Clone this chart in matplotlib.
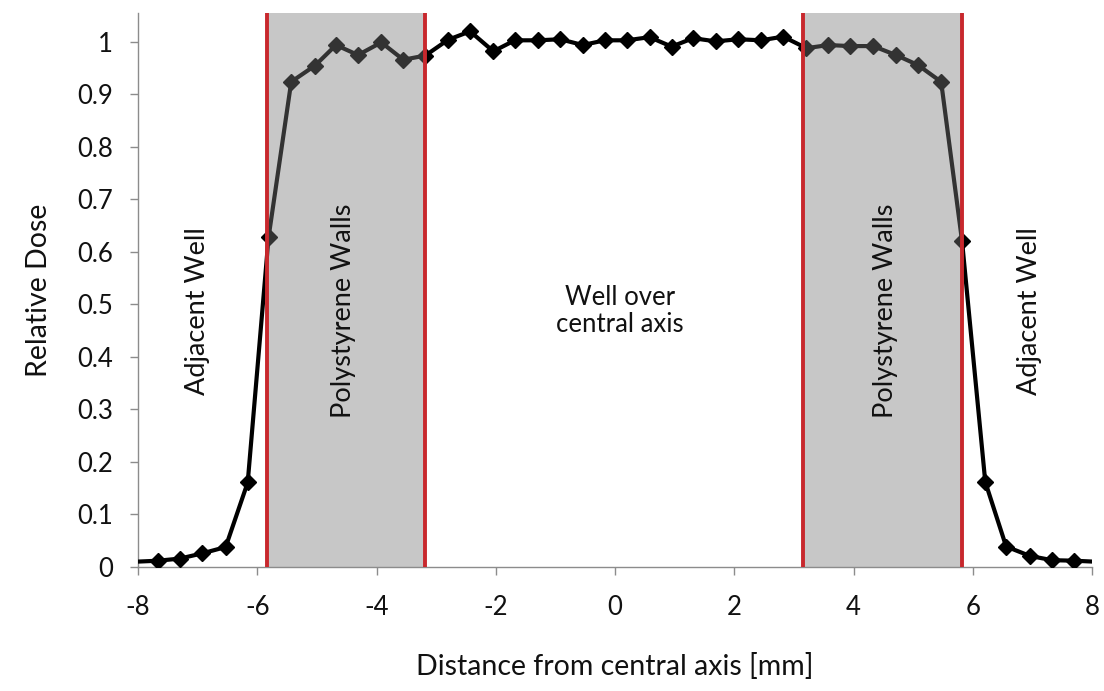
import numpy as np
import matplotlib
matplotlib.use("Agg")
import matplotlib.pyplot as plt

# Data
distance_mm = [-8.06, -7.66, -7.30, -6.92, -6.53, -6.16, -5.81, -5.43, -5.03, -4.68,
               -4.31, -3.92, -3.55, -3.18, -2.80, -2.43, -2.04, -1.68, -1.29, -0.92,
               -0.54, -0.17, 0.20, 0.58, 0.95, 1.31, 1.69, 2.07, 2.45, 2.82,
               3.21, 3.58, 3.94, 4.33, 4.71, 5.08, 5.47, 5.82, 6.21, 6.56,
               6.96, 7.33, 7.70, 8.07]
relative_dose = [0.010, 0.012, 0.016, 0.026, 0.038, 0.161, 0.628, 0.924, 0.955, 0.994,
                 0.975, 0.999, 0.966, 0.974, 1.004, 1.020, 0.982, 1.003, 1.003, 1.005,
                 0.994, 1.003, 1.003, 1.009, 0.991, 1.007, 1.001, 1.005, 1.003, 1.010,
                 0.988, 0.994, 0.992, 0.992, 0.975, 0.956, 0.924, 0.621, 0.162, 0.039,
                 0.021, 0.013, 0.012, 0.010]

wall_regions = [(-5.83, -3.18), (3.16, 5.82)]
region_labels = ["Adjacent Well", "Polystyrene Walls", "Well over\ncentral axis",
                 "Polystyrene Walls", "Adjacent Well"]
region_label_x = [-7.01, -4.55, 0.08, 4.53, 6.96]
region_label_rot = [90, 90, 0, 90, 90]

x_ticks = [-8, -6, -4, -2, 0, 2, 4, 6, 8]
y_ticks = [0, 0.1, 0.2, 0.3, 0.4, 0.5, 0.6, 0.7, 0.8, 0.9, 1.0]
y_tick_labels = ["0", "0.1", "0.2", "0.3", "0.4", "0.5", "0.6", "0.7", "0.8", "0.9", "1"]

plt.rcParams['font.family'] = ['Lato', 'DejaVu Sans']

fig = plt.figure(figsize=(11.04, 6.91), dpi=100)
ax = fig.add_axes([138/1104, (691-567)/691, (1092-138)/1104, (567-13)/691])

xs = np.array(distance_mm)
ys = np.array(relative_dose)
ax.plot(xs, ys, color='black', lw=3.0, zorder=3, solid_joinstyle='round')
inside = (xs >= -8) & (xs <= 8)
ax.plot(xs[inside], ys[inside], linestyle='none', marker='D', markersize=8.3,
        color='black', zorder=4)

# semi-transparent grey overlay for walls
for (a, b) in wall_regions:
    ax.axvspan(a, b, color=(123/255, 123/255, 123/255), alpha=0.42, lw=0, zorder=5)
    for xv in (a, b):
        ax.axvline(xv, color='#C8282D', lw=2.8, zorder=6)

for lx, txt, rot in zip(region_label_x, region_labels, region_label_rot):
    fs = 19.5 if rot == 90 else 18.5
    ax.text(lx, 0.488, txt, rotation=rot, ha='center', va='center',
            fontsize=fs, color='#111111', zorder=7, linespacing=1.1)

ax.set_xlim(-8, 8)
ax.set_ylim(0, 1.055)
ax.set_xticks(x_ticks)
ax.set_xticklabels([str(t) for t in x_ticks])
ax.set_yticks(y_ticks)
ax.set_yticklabels(y_tick_labels)

for s in ('top', 'right'):
    ax.spines[s].set_visible(False)
for s in ('left', 'bottom'):
    ax.spines[s].set_color('#8c8c8c')
    ax.spines[s].set_linewidth(1.0)
ax.tick_params(axis='both', direction='out', length=6, width=1.0, color='#8c8c8c',
               labelsize=18.5, labelcolor='#111111')
ax.tick_params(axis='x', pad=14)
ax.tick_params(axis='y', pad=12)

ax.set_xlabel("Distance from central axis [mm]", fontsize=20.5, color='#111111', labelpad=24)
ax.set_ylabel("Relative Dose", fontsize=20.5, color='#111111', labelpad=18)

fig.savefig("out.png", dpi=100)
